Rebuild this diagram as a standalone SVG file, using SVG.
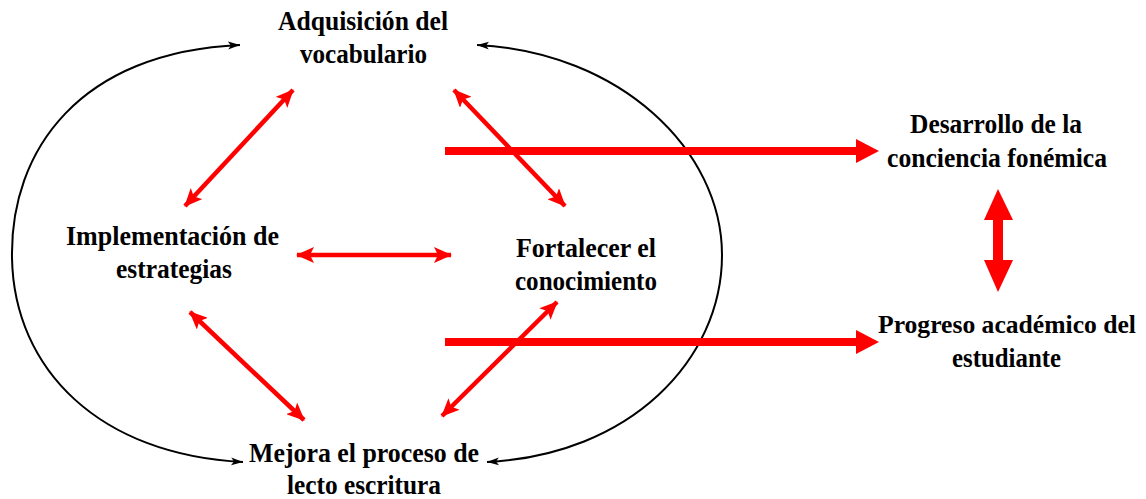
<svg xmlns="http://www.w3.org/2000/svg" width="1146" height="499" viewBox="0 0 1146 499">
<style>
.t{font-family:"Liberation Serif","Times New Roman",serif;font-weight:bold;font-size:27px;fill:#000}
.blk{fill:none;stroke:#000;stroke-width:2}
.red{fill:none;stroke:#ff0000;stroke-width:4.5}
.thick{fill:none;stroke:#ff0000;stroke-width:8}
</style>
<defs>
<marker id="bh" markerUnits="userSpaceOnUse" markerWidth="14" markerHeight="12" refX="12" refY="5" orient="auto-start-reverse" viewBox="0 0 14 10">
<path d="M0,1 L12,5 L0,9 L3,5 Z" fill="#000"/>
</marker>
<marker id="rh" markerUnits="userSpaceOnUse" markerWidth="18" markerHeight="16" refX="17" refY="8" orient="auto-start-reverse" viewBox="0 0 18 16">
<path d="M0,0 L18,8 L0,16 L4,8 Z" fill="#ff0000"/>
</marker>
</defs>
<g id="connectors">
<path class="blk" d="M12,258 C10,150 80,52 240,45" marker-end="url(#bh)"/>
<path class="blk" d="M12,258 C14,370 100,455 243,462" marker-end="url(#bh)"/>
<path class="blk" d="M722,255 C722,150 620,52 477,45" marker-end="url(#bh)"/>
<path class="blk" d="M722,255 C722,360 630,455 487,462" marker-end="url(#bh)"/>
<line class="red" x1="185" y1="206" x2="293" y2="90" marker-start="url(#rh)" marker-end="url(#rh)"/>
<line class="red" x1="454" y1="90" x2="565" y2="206" marker-start="url(#rh)" marker-end="url(#rh)"/>
<line class="red" x1="297" y1="255" x2="451" y2="255" marker-start="url(#rh)" marker-end="url(#rh)"/>
<line class="red" x1="190" y1="312" x2="304" y2="420" marker-start="url(#rh)" marker-end="url(#rh)"/>
<line class="red" x1="557" y1="302" x2="442" y2="416" marker-start="url(#rh)" marker-end="url(#rh)"/>
<line class="thick" x1="445" y1="151" x2="860" y2="151"/>
<polygon points="856,139 879,151 856,163" fill="#ff0000"/>
<line class="thick" x1="445" y1="342" x2="860" y2="342"/>
<polygon points="856,330 879,342 856,354" fill="#ff0000"/>
<rect x="993" y="218" width="10" height="44" fill="#ff0000"/>
<polygon points="998,189 1013,220 984,220" fill="#ff0000"/>
<polygon points="998,292 1013,260 984,260" fill="#ff0000"/>
</g>
<g id="n-adquisicion"><text class="t" x="278" y="30" textLength="170" lengthAdjust="spacingAndGlyphs">Adquisición  del</text><text class="t" x="300" y="63" textLength="127" lengthAdjust="spacingAndGlyphs">vocabulario</text></g>
<g id="n-implementacion"><text class="t" x="66" y="245" textLength="213" lengthAdjust="spacingAndGlyphs">Implementación  de</text><text class="t" x="116" y="278" textLength="116" lengthAdjust="spacingAndGlyphs">estrategias</text></g>
<g id="n-fortalecer"><text class="t" x="516" y="257" textLength="140" lengthAdjust="spacingAndGlyphs">Fortalecer el</text><text class="t" x="515" y="290" textLength="142" lengthAdjust="spacingAndGlyphs">conocimiento</text></g>
<g id="n-mejora"><text class="t" x="249" y="462" textLength="230" lengthAdjust="spacingAndGlyphs">Mejora  el proceso de</text><text class="t" x="287" y="494" textLength="154" lengthAdjust="spacingAndGlyphs">lecto escritura</text></g>
<g id="n-desarrollo"><text class="t" x="910" y="133" textLength="172" lengthAdjust="spacingAndGlyphs">Desarrollo  de la</text><text class="t" x="887" y="167" textLength="220" lengthAdjust="spacingAndGlyphs">conciencia  fonémica</text></g>
<g id="n-progreso"><text class="t" x="878" y="333" style="font-size:25.5px" textLength="258" lengthAdjust="spacingAndGlyphs">Progreso académico del</text><text class="t" x="952" y="367" textLength="109" lengthAdjust="spacingAndGlyphs">estudiante</text></g>
</svg>
